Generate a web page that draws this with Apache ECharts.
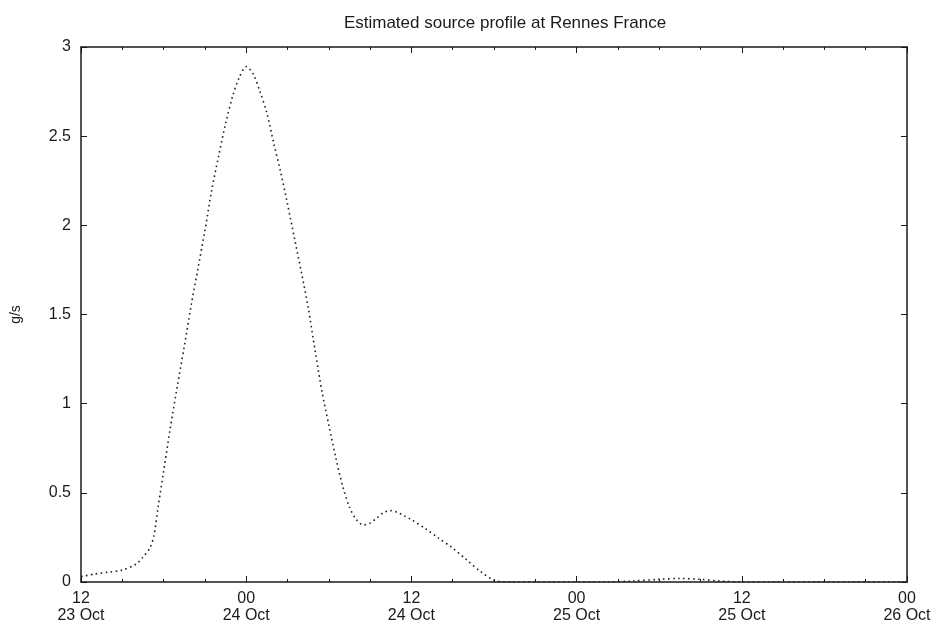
<!DOCTYPE html>
<html>
<head>
<meta charset="utf-8">
<script src="https://cdn.jsdelivr.net/npm/echarts@6/dist/echarts.min.js"></script>
<style>
  html, body { margin: 0; padding: 0; background: #fff; }
  #chart { width: 937px; height: 633px; }
</style>
</head>
<body>
<div id="chart"></div>
<script>
// Hours since 12:00 on 23 Oct
const hours = [0, 1, 2, 3, 4, 4.5, 5, 5.3, 5.6, 6, 6.5, 7, 7.5, 8, 8.5, 9, 9.5, 10, 10.5, 11, 11.5, 12,
  12.5, 13, 13.5, 14, 14.5, 15, 15.5, 16, 16.5, 17, 17.5, 18, 18.5, 19, 19.5, 20, 20.5, 21, 21.5, 22,
  22.5, 23, 23.5, 24, 25, 26, 27, 28, 29, 30, 31, 34, 38, 40, 42, 43.5, 45, 46.5, 48, 54, 60];
// Source rate (g/s)
const rates = [0.03, 0.045, 0.055, 0.067, 0.10, 0.14, 0.19, 0.26, 0.42, 0.62, 0.87, 1.10, 1.32, 1.55, 1.76, 1.97, 2.20, 2.39, 2.57, 2.72, 2.83, 2.89,
  2.85, 2.75, 2.63, 2.46, 2.30, 2.12, 1.93, 1.74, 1.54, 1.30, 1.07, 0.88, 0.70, 0.54, 0.42, 0.35, 0.32, 0.33, 0.36, 0.39,
  0.40, 0.39, 0.37, 0.35, 0.30, 0.245, 0.19, 0.125, 0.06, 0.01, 0, 0, 0, 0.005, 0.015, 0.02, 0.015, 0.005, 0, 0, 0];
// Major tick labels every 12 hours
const tickLabels = ['12\n23 Oct', '00\n24 Oct', '12\n24 Oct', '00\n25 Oct', '12\n25 Oct', '00\n26 Oct'];
const yTicks = ['0', '0.5', '1', '1.5', '2', '2.5', '3'];

const seriesData = hours.map((h, i) => [h, rates[i]]);
const font = 'Liberation Sans, Arial, sans-serif';
const ink = '#1a1a1a';

const chart = echarts.init(document.getElementById('chart'), null, { renderer: 'canvas' });

const baseX = {
  type: 'value', min: 0, max: 60, interval: 12,
  axisLine: { show: true, onZero: false, lineStyle: { color: ink, width: 1.5 } },
  axisTick: { show: true, inside: true, length: 6, lineStyle: { color: ink, width: 1 } },
  minorTick: { show: true, splitNumber: 4, length: 3, lineStyle: { color: ink, width: 1 } },
  splitLine: { show: false }
};
const baseY = {
  type: 'value', min: 0, max: 3, interval: 0.5,
  axisLine: { show: true, onZero: false, lineStyle: { color: ink, width: 1.5 } },
  axisTick: { show: true, inside: true, length: 6, lineStyle: { color: ink, width: 1 } },
  splitLine: { show: false }
};

chart.setOption({
  animation: false,
  backgroundColor: '#fff',
  title: {
    text: 'Estimated source profile at Rennes France',
    left: 500, top: 10, textAlign: 'center',
    textStyle: { fontFamily: font, fontSize: 17, fontWeight: 'normal', color: ink }
  },
  grid: { left: 81, right: 30, top: 47, bottom: 51 },
  xAxis: [
    Object.assign({}, baseX, {
      position: 'bottom',
      axisLabel: {
        color: ink, fontFamily: font, fontSize: 16, lineHeight: 17, margin: 8,
        formatter: v => tickLabels[Math.round(v / 12)] || ''
      }
    }),
    Object.assign({}, baseX, { position: 'top', axisLabel: { show: false } })
  ],
  yAxis: [
    Object.assign({}, baseY, {
      position: 'left',
      name: 'g/s', nameLocation: 'middle', nameGap: 58, nameRotate: 90,
      nameTextStyle: { color: ink, fontFamily: font, fontSize: 14 },
      axisLabel: {
        color: ink, fontFamily: font, fontSize: 16, margin: 10,
        formatter: v => yTicks[Math.round(v / 0.5)] || ''
      }
    }),
    Object.assign({}, baseY, { position: 'right', axisLabel: { show: false } })
  ],
  series: [{
    type: 'line',
    xAxisIndex: 0, yAxisIndex: 0,
    data: seriesData,
    smooth: 0.3,
    showSymbol: false,
    lineStyle: { color: '#222', width: 1.6, type: [1.6, 3.4] }
  }]
});
</script>
</body>
</html>
